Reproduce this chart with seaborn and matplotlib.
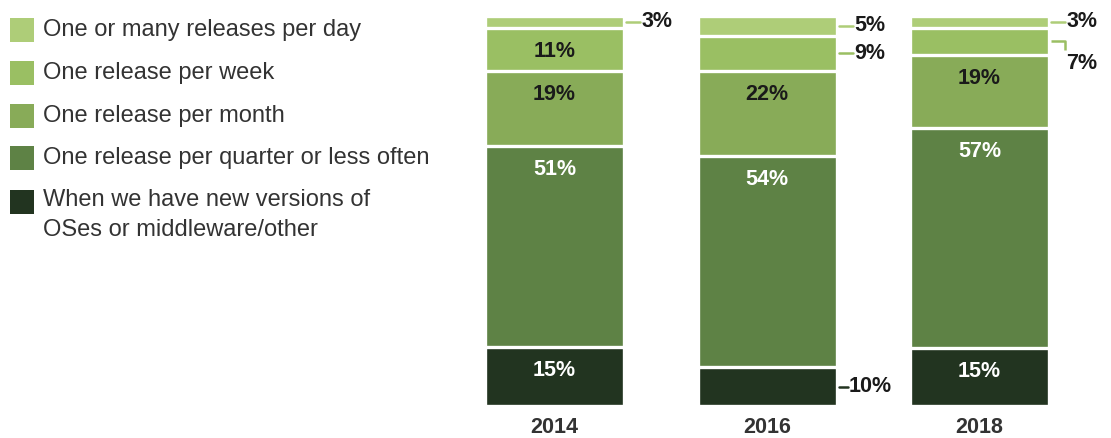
import numpy as np
import pandas as pd
import matplotlib
matplotlib.use("Agg")
import matplotlib.pyplot as plt
import seaborn as sns
from matplotlib.patches import Rectangle

years = ["2014", "2016", "2018"]
per_day = [3, 5, 3]
per_week = [11, 9, 7]
per_month = [19, 22, 19]
per_quarter = [51, 54, 57]
new_versions = [15, 10, 15]

series_names = [
    "One or many releases per day",
    "One release per week",
    "One release per month",
    "One release per quarter or less often",
    "When we have new versions of\nOSes or middleware/other",
]
colors = ["#aecd78", "#9abf63", "#88ab58", "#5e8245", "#223420"]
label_colors = ["#1a1a1a", "#1a1a1a", "#1a1a1a", "#ffffff", "#ffffff"]

sns.set_theme(style="white")
plt.rcParams["font.family"] = ["Liberation Sans", "DejaVu Sans"]

# bottom-to-top order of stacking
stack = [new_versions, per_quarter, per_month, per_week, per_day]
stack_colors = colors[::-1]
stack_lcolors = label_colors[::-1]
vals = np.array(stack, dtype=float)          # (5, 3)
totals = vals.sum(axis=0)
norm = vals / totals * 100
cum = np.cumsum(norm, axis=0)                 # tops
bottoms = cum - norm

fig = plt.figure(figsize=(11.11, 4.38), dpi=100)
W, H = 1111, 438
ax = fig.add_axes([470 / W, (H - 406) / H, (1090 - 470) / W, (406 - 16) / H])

width = 139 / 212.5
# draw from tallest cumulative to shortest so each layer overlaps
for i in range(len(stack) - 1, -1, -1):
    df = pd.DataFrame({"year": years, "top": cum[i]})
    sns.barplot(data=df, x="year", y="top", color=stack_colors[i], width=width,
                edgecolor="white", linewidth=2.4, saturation=1, ax=ax, errorbar=None)

ax.set_xlim(-(554.5 - 470) / 212.5, 2 + (1090 - 979.5) / 212.5)
ax.set_ylim(0, 100)
sns.despine(ax=ax, left=True, bottom=True)
ax.set_yticks([])
ax.set_ylabel("")
ax.set_xlabel("")
ax.tick_params(axis="x", length=0, pad=8)
for t in ax.get_xticklabels():
    t.set_fontweight("bold")
    t.set_fontsize(15.5)
    t.set_color("#333333")

px = 100 / 390  # data units per pixel (y)
ux = 1 / 212.5  # data units per pixel (x)

inside_map = [
    (0, 0), (0, 1), (0, 2), (0, 3),
    (1, 1), (1, 2),
    (2, 0), (2, 1), (2, 2),
]
for (j, i) in inside_map:
    y = cum[i, j] - 23.5 * px
    ax.text(j, y, f"{stack[i][j]}%", ha="center", va="center", fontsize=15.5,
            fontweight="bold", color=stack_lcolors[i])

# outside labels with leader lines
def outside(j, i, y_line, y_text=None, elbow=False, length=14):
    x0 = j + width / 2 + 2 * ux
    x1 = x0 + length * ux
    lc = stack_colors[i]
    if elbow:
        ax.plot([x0, x1, x1], [y_line, y_line, y_line - 9 * px], color=lc, lw=1.8,
                solid_capstyle="butt", clip_on=False)
    else:
        ax.plot([x0, x1], [y_line, y_line], color=lc, lw=1.8, clip_on=False)
    ax.text(x1 + 1.5 * ux, y_text if y_text is not None else y_line, f"{stack[i][j]}%",
            ha="left", va="center", fontsize=15.5, fontweight="bold", color="#1a1a1a",
            clip_on=False)

mid = (cum + bottoms) / 2
outside(0, 4, mid[4, 0])
outside(1, 4, mid[4, 1])
outside(1, 3, mid[3, 1])
outside(1, 0, mid[0, 1], length=9)
outside(2, 4, mid[4, 2])
outside(2, 3, mid[3, 2], y_text=mid[3, 2] - 22 * px, elbow=True)

# legend (manual)
rows_y = [30, 73, 116, 158, 202]
for name, c, yc in zip(series_names, colors, rows_y):
    fig.patches.append(Rectangle((10 / W, (H - yc - 12) / H), 24 / W, 24 / H,
                                 transform=fig.transFigure, facecolor=c,
                                 edgecolor="none"))
    if "\n" in name:
        fig.text(43 / W, (H - yc + 13) / H, name, ha="left", va="top",
                 fontsize=17, color="#333333", linespacing=1.45)
    else:
        fig.text(43 / W, (H - yc) / H, name, ha="left", va="center",
                 fontsize=17, color="#333333")

fig.savefig("out.png", dpi=100)
